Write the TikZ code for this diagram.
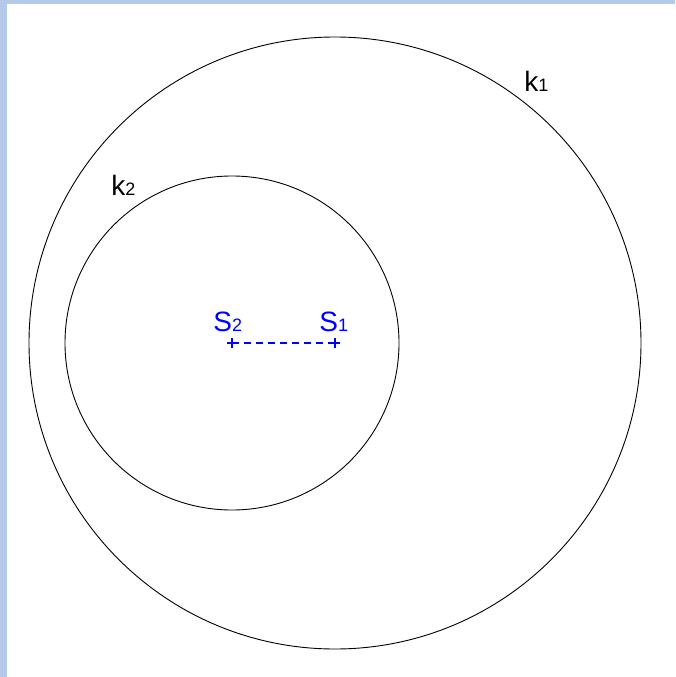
\documentclass[tikz,border=0pt]{standalone}
\usepackage{fontspec}
\setmainfont{Liberation Sans}
\usetikzlibrary{positioning}

\definecolor{framebg}{RGB}{180,200,232}
\definecolor{ptblue}{RGB}{0,0,255}
\tikzset{
  lbl/.style={inner sep=0pt,anchor=base west,font=\fontsize{28}{30}\selectfont},
  ptlbl/.style={lbl,text=ptblue}
}
\newcommand{\subs}[1]{{\fontsize{18}{18}\selectfont #1}}

\begin{document}
\begin{tikzpicture}[x=1pt,y=-1pt,line width=0.9pt]
  \useasboundingbox (0,0) rectangle (675,677);
  % frame
  \fill[framebg] (0,0) rectangle (675,677);
  \fill[white] (7,4) rectangle (675,677);
  % points
  \coordinate (S2) at (232,343);
  \coordinate (S1) at (335,343);
  % circles
  \draw (S1) circle (306);
  \draw (S2) circle (167);
  \node[lbl] (k1) at (524,91) {k\subs{1}};
  \node[lbl] (k2) at (111,195) {k\subs{2}};
  % segment
  \draw[draw=ptblue,line width=1.3pt,dash pattern=on 7pt off 5pt] (S2) -- (S1);
  \foreach \p in {S1,S2}
    \draw[draw=ptblue,line width=1.3pt] ([xshift=-5pt]\p) -- ([xshift=5pt]\p) ([yshift=-5pt]\p) -- ([yshift=5pt]\p);
  \node[ptlbl] (l2) at (213,331) {S\subs{2}};
  \node[ptlbl] (l1) at (319,331) {S\subs{1}};
\end{tikzpicture}
\end{document}
